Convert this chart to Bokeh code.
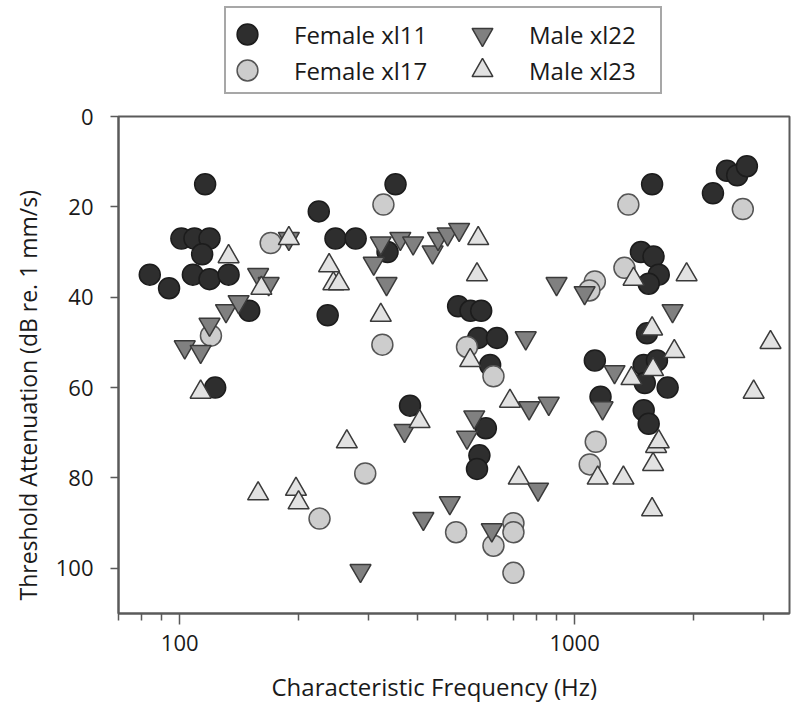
from bokeh.plotting import figure
from bokeh.layouts import column
from bokeh.models import (Legend, LegendItem, FixedTicker, BasicTickFormatter,
                          Range1d, Title, ColumnDataSource, CDSView, IndexFilter)
from bokeh.embed import file_html
from bokeh.resources import INLINE

# ---- data (characteristic frequency in Hz, threshold attenuation in dB) ----
f11_cf = [84, 94, 101, 109, 119, 116, 114, 108, 119, 133, 150, 123, 225, 237, 248, 279,
          336, 352, 383, 507, 545, 580, 570, 636, 611, 596, 574, 566, 1125, 1163, 1472,
          1584, 1633, 1540, 1525, 1496, 1616, 1505, 1720, 1496, 1540, 1571, 2240, 2430,
          2580, 2730]
f11_thr = [35, 38, 27, 27, 27, 15, 30.5, 35, 36, 35, 43, 60, 21, 44, 27, 27,
           30, 15, 64, 42, 43, 43, 49, 49, 55, 69, 75, 78, 54, 62, 30,
           31, 35, 37, 48, 55, 54, 59, 60, 65, 68, 15, 17, 12,
           13, 11]

f17_cf = [170, 120, 328, 326, 295, 226, 534, 623, 501, 700, 700, 623, 700, 1368, 1337,
          1125, 1090, 1131, 1092, 2666]
f17_thr = [28, 48.5, 19.5, 50.5, 79, 89, 51, 57.5, 92, 90, 92, 95, 101, 19.5, 33.5,
           36.5, 38.5, 72, 77, 20.5]

m22_cf = [103, 113, 119, 131, 141, 158, 168, 189, 310, 323, 334, 362, 390, 437, 451,
          477, 510, 900, 1060, 752, 371, 557, 534, 483, 414, 617, 287, 767, 860, 808,
          1262, 1177, 1770]
m22_thr = [51, 52, 46, 43, 41, 35, 37, 27, 32.5, 28, 37, 27, 28, 30, 27,
           26, 25, 37, 39, 49, 69.5, 66.5, 71, 85.5, 89, 91.5, 100.5, 64.5, 63.5, 82.5,
           56.5, 64.5, 43]

m23_cf = [113, 133, 161, 158, 189, 197, 200, 239, 245, 253, 265, 323, 405, 544, 566,
          570, 686, 722, 1144, 1329, 1393, 1410, 1571, 1580, 1608, 1633, 1580, 1571,
          1788, 1921, 2840, 3133]
m23_thr = [61, 31, 38, 83.5, 27, 82.5, 85.5, 33, 37, 37, 72, 44, 67.5, 54, 35,
           27, 63, 80, 80, 80, 58, 36, 47, 56, 73, 72, 77, 87,
           52, 35, 61, 50]

series_labels = ["Female xl11", "Female xl17", "Male xl22", "Male xl23"]
x_major_ticks = [100, 1000]
x_minor_ticks = [70, 80, 90, 200, 300, 400, 500, 600, 700, 800, 900, 2000, 3000]
y_ticks = [0, 20, 40, 60, 80, 100]
x_title = "Characteristic Frequency (Hz)"
y_title = "Threshold Attenuation (dB re. 1 mm/s)"

FONT = "Open Sans"
AX = "#5a5a5a"
TXT = "#1a1a1a"
SZ = 21
LW = 1.5
styles = [
    dict(marker="circle", fill_color="#2e2e2e", line_color="#1c1c1c"),
    dict(marker="circle", fill_color="#cdcdcd", line_color="#555555"),
    dict(marker="inverted_triangle", fill_color="#808080", line_color="#3a3a3a"),
    dict(marker="triangle", fill_color="#e2e2e2", line_color="#3a3a3a"),
]
sources = [ColumnDataSource(dict(cf=xs, thr=ys)) for xs, ys in
           [(f11_cf, f11_thr), (f17_cf, f17_thr), (m22_cf, m22_thr), (m23_cf, m23_thr)]]

# ---------------- main plot ----------------
LEG_H = 102
p = figure(width=800, height=727 - LEG_H, x_axis_type="log",
           x_range=Range1d(70, 3500), y_range=Range1d(110, 0),
           output_backend="svg", toolbar_location=None,
           min_border_left=117, min_border_right=11,
           min_border_top=14, min_border_bottom=114)
p.xgrid.visible = False
p.ygrid.visible = False
p.outline_line_color = AX
p.outline_line_width = 2
p.background_fill_color = "white"
p.border_fill_color = "white"

p.xaxis.ticker = FixedTicker(ticks=x_major_ticks, minor_ticks=x_minor_ticks)
p.xaxis.formatter = BasicTickFormatter(use_scientific=False)
p.yaxis.ticker = FixedTicker(ticks=y_ticks)
for ax in (p.xaxis, p.yaxis):
    ax.axis_line_color = AX
    ax.axis_line_width = 2
    ax.major_tick_line_color = AX
    ax.major_tick_line_width = 1.5
    ax.minor_tick_line_color = AX
    ax.minor_tick_line_width = 1.5
    ax.major_tick_in = 0
    ax.minor_tick_in = 0
    ax.major_label_text_font = FONT
    ax.major_label_text_font_size = "22px"
    ax.major_label_text_color = TXT
p.xaxis.major_tick_out = 11
p.xaxis.minor_tick_out = 7
p.xaxis.major_label_standoff = 10
p.yaxis.major_tick_out = 8
p.yaxis.minor_tick_out = 0
p.yaxis.major_label_standoff = 17

p.add_layout(Title(text=x_title, align="left", offset=153, standoff=28,
                   text_font=FONT, text_font_size="24px",
                   text_font_style="normal", text_color=TXT), "below")
p.add_layout(Title(text=y_title, align="left", offset=13, standoff=18,
                   text_font=FONT, text_font_size="23px",
                   text_font_style="normal", text_color=TXT), "left")

for src, st in zip(sources, styles):
    p.scatter("cf", "thr", source=src, size=SZ, line_width=LW, **st)

# ---------------- legend strip above the plot ----------------
# the strip's ranges hold none of the data, so its proxy renderers show
# nothing in the strip; they only lend their styles to the legend swatches
leg = figure(width=800, height=LEG_H, output_backend="svg", toolbar_location=None,
             x_range=Range1d(0, 1), y_range=Range1d(0, 1),
             x_axis_location=None, y_axis_location=None,
             min_border_left=117, min_border_right=11,
             min_border_top=0, min_border_bottom=0)
leg.outline_line_color = None
leg.xgrid.visible = False
leg.ygrid.visible = False
first_only = CDSView(filter=IndexFilter(indices=[0]))
leg_renderers = [leg.scatter("cf", "thr", source=src, view=first_only,
                             size=SZ, line_width=LW, **st)
                 for src, st in zip(sources, styles)]

box = Legend(items=[LegendItem(label=" ", renderers=[leg_renderers[0]])],
             location=(106, 8), padding=0, margin=0, spacing=0,
             glyph_width=0, glyph_height=84, label_standoff=0,
             label_width=434, label_height=84,
             border_line_color="#505050", border_line_width=2,
             background_fill_color="white", background_fill_alpha=1)
leg.add_layout(box)
locs = [(103, 42), (103, 6), (338, 42), (338, 6)]
for lab, r, loc in zip(series_labels, leg_renderers, locs):
    lg = Legend(items=[LegendItem(label=lab, renderers=[r])], location=loc,
                padding=0, margin=0, spacing=0, glyph_width=52, glyph_height=52,
                label_standoff=21, label_height=52,
                label_text_font=FONT, label_text_font_size="24px",
                label_text_color=TXT,
                border_line_alpha=0, background_fill_alpha=0)
    leg.add_layout(lg)

layout = column(leg, p, spacing=0)
open("out.html", "w").write(file_html(layout, INLINE))
